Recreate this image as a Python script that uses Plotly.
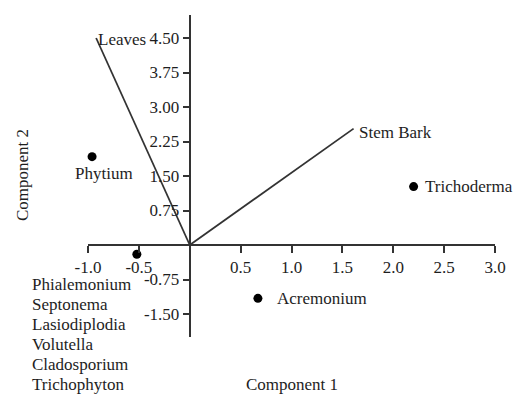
import plotly.graph_objects as go

# Data
point_names = ["Phytium", "Trichoderma", "Acremonium", "Cluster"]
point_x = [-0.96, 2.20, 0.67, -0.52]
point_y = [1.92, 1.27, -1.16, -0.20]

cluster_labels = ["Phialemonium", "Septonema", "Lasiodiplodia", "Volutella", "Cladosporium", "Trichophyton"]

vector_names = ["Leaves", "Stem Bark"]
vector_x = [-0.92, 1.61]
vector_y = [4.50, 2.53]

x_ticks = [-1.0, -0.5, 0.5, 1.0, 1.5, 2.0, 2.5, 3.0]
x_tick_text = ["-1.0", "-0.5", "0.5", "1.0", "1.5", "2.0", "2.5", "3.0"]
y_ticks = [4.50, 3.75, 3.00, 2.25, 1.50, 0.75, -0.75, -1.50]
y_tick_text = ["4.50", "3.75", "3.00", "2.25", "1.50", "0.75", "-0.75", "-1.50"]

X_RANGE = [-1.0, 3.0]
Y_RANGE = [-2.0, 5.0]

FONT = "Liberation Serif"
FS = 17
INK = "#1e1e1e"

fig = go.Figure()

for name, vx, vy in zip(vector_names, vector_x, vector_y):
    fig.add_trace(go.Scatter(x=[0, vx], y=[0, vy], mode="lines",
                             line=dict(color="#333333", width=1.8),
                             showlegend=False, hoverinfo="skip", cliponaxis=False))

fig.add_trace(go.Scatter(x=point_x, y=point_y, mode="markers",
                         marker=dict(color="black", size=9),
                         showlegend=False, cliponaxis=False))

ann = []
# vector labels
ann.append(dict(x=vector_x[0], y=vector_y[0], text=vector_names[0], xanchor="left", yanchor="middle",
                xshift=0, yshift=-1, showarrow=False))
ann.append(dict(x=vector_x[1], y=vector_y[1], text=vector_names[1], xanchor="left", yanchor="middle",
                xshift=3, yshift=-4, showarrow=False))
# point labels
ann.append(dict(x=point_x[0], y=point_y[0], text=point_names[0], xanchor="center", yanchor="middle",
                xshift=12, yshift=-17, showarrow=False))
ann.append(dict(x=point_x[1], y=point_y[1], text=point_names[1], xanchor="left", yanchor="middle",
                xshift=9, showarrow=False))
ann.append(dict(x=point_x[2], y=point_y[2], text=point_names[2], xanchor="left", yanchor="middle",
                xshift=17, showarrow=False))
for i, lab in enumerate(cluster_labels):
    ann.append(dict(x=point_x[3], y=point_y[3], text=lab, xanchor="left", yanchor="middle",
                    xshift=-107, yshift=-(30 + 20 * i), showarrow=False))
# axis titles
ann.append(dict(xref="paper", yref="paper", x=0.50, y=-0.149, text="Component 1",
                xanchor="center", yanchor="middle", showarrow=False))
ann.append(dict(xref="paper", yref="paper", x=-0.162, y=0.503, text="Component 2", textangle=-90,
                xanchor="center", yanchor="middle", showarrow=False))

for a in ann:
    a["font"] = dict(family=FONT, size=FS, color=INK)

fig.update_layout(
    width=517, height=394,
    margin=dict(l=88, r=22, t=15, b=57),
    paper_bgcolor="white", plot_bgcolor="white",
    font=dict(family=FONT, size=FS, color=INK),
    annotations=ann,
    xaxis=dict(range=X_RANGE, domain=[0, 1], anchor="free",
               position=(0 - Y_RANGE[0]) / (Y_RANGE[1] - Y_RANGE[0]),
               showgrid=False, zeroline=False, showline=True, linecolor="#333333", linewidth=2,
               ticks="outside", ticklen=7, tickwidth=2, tickcolor="#333333",
               tickvals=x_ticks, ticktext=x_tick_text, tickfont=dict(family=FONT, size=FS, color=INK)),
    yaxis=dict(range=Y_RANGE, domain=[0, 1], anchor="free",
               position=(0 - X_RANGE[0]) / (X_RANGE[1] - X_RANGE[0]),
               showgrid=False, zeroline=False, showline=True, linecolor="#333333", linewidth=2,
               ticks="outside", ticklen=6, tickwidth=2, tickcolor="#333333",
               tickvals=y_ticks, ticktext=y_tick_text, tickfont=dict(family=FONT, size=FS, color=INK)),
)

fig.write_html("out.html", config={"displayModeBar": False},
               post_script="document.body.style.margin='0';document.body.style.padding='0';document.body.style.overflow='hidden';")
